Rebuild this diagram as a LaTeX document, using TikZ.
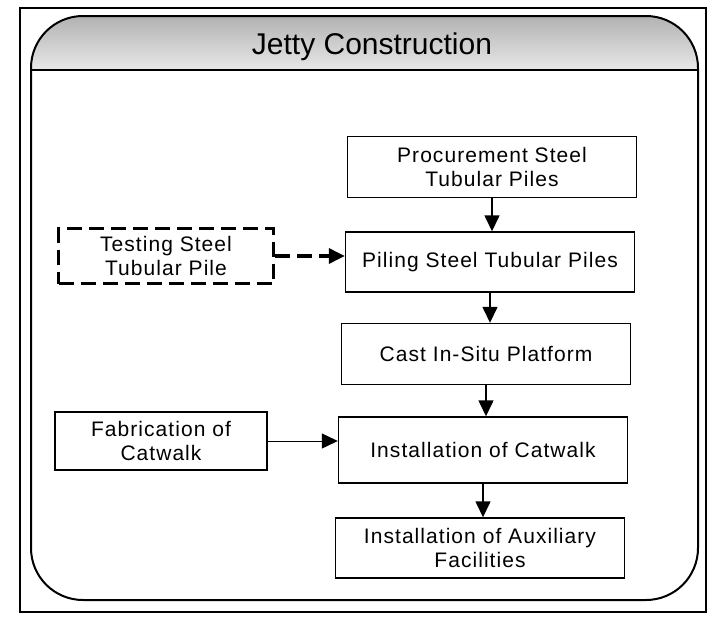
\documentclass[tikz,border=0pt]{standalone}
\usepackage{fontspec}
\setmainfont{Liberation Sans}
\newfontfamily\boxfont[LetterSpace=5]{Liberation Sans}
\usetikzlibrary{arrows.meta}
\begin{document}
\begin{tikzpicture}[x=1pt,y=-1pt,
  box/.style={draw, line width=1.4pt, minimum width=289pt, minimum height=60pt,
    align=center, inner sep=0pt, font=\boxfont\fontsize{21}{24}\selectfont},
  dbox/.style={box, line width=3.5pt, dash pattern=on 15pt off 7pt},
  flow/.style={line width=1.4pt, -{Triangle[length=16pt,width=15pt]}},
  dflow/.style={line width=3.5pt, dash pattern=on 15pt off 7pt, -{Triangle[length=16pt,width=15pt]}},
  thinflow/.style={line width=1pt, -{Triangle[length=16pt,width=15pt]}}
]
\useasboundingbox (0,0) rectangle (715,629);
\fill[white] (0,0) rectangle (715,629);
% outer frame
\draw[line width=1.8pt] (20,8) rectangle (706,612);
% header band
\begin{scope}
  \clip[rounded corners=52pt] (31,16) rectangle (698,600);
  \shade[top color=gray!60, bottom color=gray!18] (31,16) rectangle (698,70);
\end{scope}
\draw[line width=2pt, rounded corners=52pt] (31,16) rectangle (698,600);
\draw[line width=2pt] (31,70) -- (698,70);
\node[font=\fontsize{30}{34}\selectfont] (title) at (372,47) {Jetty Construction};

% boxes
\node[box, minimum height=61pt] (proc) at (492,167) {Procurement Steel\\Tubular Piles};
\node[box] (pile) at (490,262) {Piling Steel Tubular Piles};
\node[dbox, minimum width=215pt, minimum height=55pt] (test) at (166,256) {Testing Steel\\Tubular Pile};
\node[box, minimum height=61pt] (cast) at (486,354) {Cast In-Situ Platform};
\node[box, minimum width=212pt, minimum height=58pt] (fab) at (161,441) {Fabrication of\\Catwalk};
\node[box, minimum height=66pt] (cat) at (483,450) {Installation of Catwalk};
\node[box] (aux) at (480,548) {Installation of Auxiliary\\Facilities};

% connectors
\draw[flow] (proc.south) -- (proc.south |- pile.north);
\draw[flow] (pile.south) -- (pile.south |- cast.north);
\draw[flow] (cast.south) -- (cast.south |- cat.north);
\draw[flow] (cat.south) -- (cat.south |- aux.north);
\draw[dflow] (test.east) -- (test.east -| pile.west);
\draw[thinflow] (fab.east) -- (fab.east -| cat.west);
\end{tikzpicture}
\end{document}
